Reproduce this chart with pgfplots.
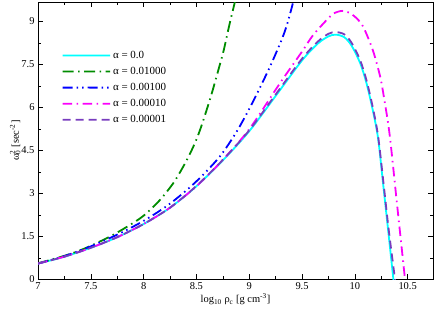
\documentclass[border=0pt]{standalone}
\usepackage{fontspec}
\setmainfont{Liberation Serif}
\usepackage{pgfplots}
\pgfplotsset{compat=1.18}
\usetikzlibrary{calc}
\definecolor{cyanc}{RGB}{0,255,255}
\definecolor{greenc}{RGB}{0,140,0}
\definecolor{bluec}{RGB}{0,0,255}
\definecolor{mgt}{RGB}{250,0,250}
\definecolor{purc}{RGB}{120,60,190}
\tikzset{
  sA/.style={color=cyanc, solid, line width=1.8bp},
  sB/.style={color=greenc, line width=1.8bp, dash pattern=on 11bp off 4.5bp on 1.5bp off 4.5bp},
  sC/.style={color=bluec, line width=1.8bp, dash pattern=on 10bp off 4bp on 1.5bp off 4bp on 1.5bp off 4bp},
  sD/.style={draw=mgt, line width=1.8bp, dash pattern=on 9.5bp off 4.5bp on 1.5bp off 4.5bp},
  sE/.style={color=purc, line width=1.8bp, dash pattern=on 8bp off 5bp},
}
\begin{document}
\begin{tikzpicture}
\begin{axis}[
  name=ax,
  scale only axis,
  width=395bp, height=277.3bp,
  xmin=7, xmax=10.74, ymin=0, ymax=9.68,
  xtick={7,7.5,8,8.5,9,9.5,10,10.5},
  ytick={0,1.5,3,4.5,6,7.5,9},
  minor x tick num=1, minor y tick num=1,
  tick align=inside,
  major tick length=5bp, minor tick length=3bp,
  tick style={black, line width=0.6bp},
  axis line style={line width=0.9bp},
  tick label style={font=\fontsize{10.5}{12}\selectfont},
  /pgf/number format/assume math mode=true,
  /pgf/number format/fixed,
  /pgf/number format/precision=1,
  xlabel={log\textsubscript{10} ρ\textsubscript{c} [g cm\textsuperscript{-3}]},
  ylabel={ω\rlap{\textsuperscript{2}}\textsubscript{0} [sec\textsuperscript{-2}]},
  label style={font=\fontsize{10.5}{12}\selectfont},
  xlabel style={yshift=3bp},
  ylabel style={yshift=-6bp},
  legend style={draw=none, fill=none, at={(0.052,0.838)}, anchor=north west,
    font=\fontsize{11}{12}\selectfont, row sep=3.3bp},
  legend cell align=left,
  legend image code/.code={\draw[#1] (0bp,0bp) -- (23.75bp,0.04bp) -- (47.5bp,0bp);},
  every axis plot/.append style={smooth, tension=0.5},
]
\addplot[sA, forget plot] coordinates {
(7.0,0.55)(7.25,0.79)(7.5,1.1)(7.75,1.47)(8.0,1.93)(8.25,2.5)(8.5,3.25)(8.75,4.15)(9.0,5.17)(9.25,6.4)(9.5,7.64)(9.65,8.23)(9.75,8.48)(9.82,8.54)(9.9,8.45)(9.97,8.15)(10.05,7.55)(10.11,6.85)(10.17,5.9)(10.22,4.92)(10.27,3.25)(10.32,1.55)(10.365,0)(10.38,-0.5)};
\addplot[sB, forget plot] coordinates {
(7.0,0.56)(7.11,0.67)(7.25,0.82)(7.37,0.97)(7.5,1.17)(7.68,1.49)(7.85,1.85)(8.0,2.22)(8.15,2.75)(8.28,3.35)(8.37,3.9)(8.44,4.39)(8.5,4.88)(8.55,5.38)(8.6,5.95)(8.65,6.55)(8.72,7.47)(8.76,8.02)(8.81,8.85)(8.864,9.68)(8.88,9.95)};
\addplot[sC, forget plot] coordinates {
(7.0,0.55)(7.25,0.81)(7.5,1.15)(7.75,1.56)(8.0,2.04)(8.25,2.64)(8.5,3.42)(8.72,4.28)(8.88,5.15)(9.0,5.95)(9.1,6.68)(9.2,7.45)(9.3,8.3)(9.35,8.8)(9.4,9.45)(9.43,9.9)};
\addplot[sD, forget plot] coordinates {
(7.0,0.55)(7.25,0.79)(7.5,1.1)(7.75,1.47)(8.0,1.93)(8.25,2.5)(8.5,3.25)(8.75,4.17)(9.0,5.24)(9.29,6.84)(9.5,7.95)(9.6,8.5)(9.73,9.04)(9.8,9.28)(9.88,9.37)(9.95,9.3)(10.02,9.1)(10.08,8.81)(10.17,8.0)(10.24,7.07)(10.28,6.25)(10.33,5.03)(10.4,2.6)(10.475,0)(10.49,-0.5)};
\addplot[sE, forget plot] coordinates {
(7.0,0.55)(7.25,0.79)(7.5,1.1)(7.75,1.47)(8.0,1.93)(8.25,2.5)(8.5,3.26)(8.75,4.17)(9.0,5.2)(9.25,6.45)(9.5,7.7)(9.65,8.3)(9.75,8.57)(9.82,8.63)(9.9,8.55)(9.97,8.25)(10.05,7.65)(10.11,6.95)(10.17,6.0)(10.22,5.0)(10.27,3.4)(10.32,1.75)(10.38,0)(10.395,-0.5)};
\addlegendimage{sA}\addlegendentry{α = 0.0}
\addlegendimage{sB}\addlegendentry{α = 0.01000}
\addlegendimage{sC}\addlegendentry{α = 0.00100}
\addlegendimage{sD}\addlegendentry{α = 0.00010}
\addlegendimage{sE}\addlegendentry{α = 0.00001}
\end{axis}
\pgfresetboundingbox
\path ($(ax.south west)+(-38bp,-34bp)$) rectangle ($(ax.north east)+(3bp,2bp)$);
\end{tikzpicture}
\end{document}
